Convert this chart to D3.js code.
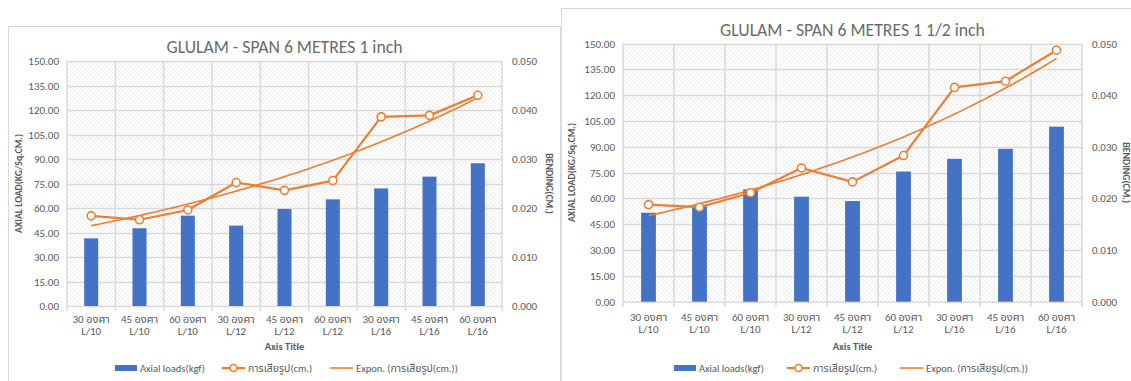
<!DOCTYPE html>
<html>
<head>
<meta charset="utf-8">
<script src="https://cdn.jsdelivr.net/npm/d3@7"></script>
<style>
  html, body { margin: 0; padding: 0; background: #ffffff; }
  svg { display: block; }
  text { font-family: Carlito, "Noto Sans Thai", "Liberation Sans", sans-serif; }
</style>
</head>
<body>
<svg id="chart" width="1131" height="381"></svg>
<script>
// ---------------- DATA ----------------
const angleLabels = ["30 องศา", "45 องศา", "60 องศา", "30 องศา", "45 องศา", "60 องศา", "30 องศา", "45 องศา", "60 องศา"];
const spanLabels = ["L/10", "L/10", "L/10", "L/12", "L/12", "L/12", "L/16", "L/16", "L/16"];

const titleA = "GLULAM - SPAN 6 METRES 1 inch";
const axialLoadsA = [41.4, 47.6, 55.3, 49.2, 59.4, 65.3, 72.0, 79.2, 87.4];
const bendingA = [0.0184, 0.0176, 0.0196, 0.0252, 0.0236, 0.0256, 0.0386, 0.0389, 0.0430];

const titleB = "GLULAM - SPAN 6 METRES 1 1/2 inch";
const axialLoadsB = [51.7, 56.2, 65.3, 61.0, 58.5, 75.6, 83.0, 88.8, 101.7];
const bendingB = [0.0188, 0.0183, 0.0211, 0.0259, 0.0232, 0.0283, 0.0415, 0.0427, 0.0487];

const loadTicks = [0, 15, 30, 45, 60, 75, 90, 105, 120, 135, 150];
const bendTicks = [0, 0.01, 0.02, 0.03, 0.04, 0.05];

const leftAxisTitle = "AXIAL LOAD(KG/Sq.CM.)";
const rightAxisTitle = "BENDING(CM.)";
const xAxisTitle = "Axis Title";
const legendBar = "Axial loads(kgf)";
const legendLine = "การเสียรูป(cm.)";
const legendTrend = "Expon. (การเสียรูป(cm.))";

// ---------------- STYLE ----------------
const BAR = "#4472C4";
const ORANGE = "#ED7D31";
const TXT = "#595959";
const GRID = "#d9d9d9";

const svg = d3.select("#chart");
const defs = svg.append("defs");
const pat = defs.append("pattern")
  .attr("id", "hatch").attr("patternUnits", "userSpaceOnUse")
  .attr("width", 4).attr("height", 4);
pat.append("rect").attr("width", 4).attr("height", 4).attr("fill", "#ffffff");
pat.append("path").attr("d", "M-1,-1 L5,5 M-1,3 L1,5 M3,-1 L5,1")
  .attr("stroke", "#ebebeb").attr("stroke-width", 1);

// exponential least-squares fit y = a*exp(b*x), x = 1..n (Excel style)
function expFit(vals) {
  const xs = vals.map((_, i) => i + 1);
  const ls = vals.map(v => Math.log(v));
  const mx = d3.mean(xs), ml = d3.mean(ls);
  let sxy = 0, sxx = 0;
  xs.forEach((x, i) => { sxy += (x - mx) * (ls[i] - ml); sxx += (x - mx) * (x - mx); });
  const b = sxy / sxx;
  const a = Math.exp(ml - b * mx);
  return x => a * Math.exp(b * x);
}

function drawChart(cfg, title, loads, bend) {
  const g = svg.append("g");
  // frame
  g.append("rect")
    .attr("x", cfg.frame[0] + 0.5).attr("y", cfg.frame[1] + 0.5)
    .attr("width", cfg.frame[2]).attr("height", cfg.frame[3])
    .attr("fill", "#ffffff").attr("stroke", GRID).attr("stroke-width", 1);

  const [x0, y0, x1, y1] = cfg.plot;
  const idx = d3.range(angleLabels.length);
  const x = d3.scaleBand().domain(idx).range([x0, x1]);
  const yL = d3.scaleLinear().domain([0, 150]).range([y1, y0]);
  const yR = d3.scaleLinear().domain([0, 0.05]).range([y1, y0]);
  const cx = i => x(i) + x.bandwidth() / 2;

  // plot background
  g.append("rect").attr("x", x0).attr("y", y0).attr("width", x1 - x0).attr("height", y1 - y0)
    .attr("fill", "url(#hatch)");

  // horizontal gridlines
  g.append("g").selectAll("line").data(loadTicks.filter(d => d > 0)).join("line")
    .attr("x1", x0).attr("x2", x1)
    .attr("y1", d => Math.round(yL(d)) + 0.5).attr("y2", d => Math.round(yL(d)) + 0.5)
    .attr("stroke", GRID).attr("stroke-width", 1.5);
  // vertical gridlines (category boundaries)
  const bounds = idx.map(i => x(i)).concat([x1]);
  g.append("g").selectAll("line").data(bounds).join("line")
    .attr("x1", d => d).attr("x2", d => d).attr("y1", y0).attr("y2", y1)
    .attr("stroke", GRID).attr("stroke-width", 1.5);
  // category axis line + tick marks
  g.append("line").attr("x1", x0).attr("x2", x1).attr("y1", y1 + 0.5).attr("y2", y1 + 0.5)
    .attr("stroke", GRID).attr("stroke-width", 1.5);
  g.append("g").selectAll("line").data(bounds).join("line")
    .attr("x1", d => d).attr("x2", d => d).attr("y1", y1).attr("y2", y1 + 5)
    .attr("stroke", GRID).attr("stroke-width", 1.5);

  // bars
  const bw = x.bandwidth() * 0.29;
  g.append("g").selectAll("rect").data(loads).join("rect")
    .attr("x", (d, i) => cx(i) - bw / 2).attr("width", bw)
    .attr("y", d => yL(d)).attr("height", d => yL(0) - yL(d))
    .attr("fill", BAR);

  // trendline (exponential)
  const f = expFit(bend);
  const tPts = d3.range(0, 80.001).map(k => 1 + k / 10);
  g.append("path")
    .attr("d", d3.line().x(t => cx(0) + (t - 1) * x.bandwidth()).y(t => yR(f(t)))(tPts))
    .attr("fill", "none").attr("stroke", ORANGE).attr("stroke-width", 1.6);

  // line series
  g.append("path")
    .attr("d", d3.line().x((d, i) => cx(i)).y(d => yR(d))(bend))
    .attr("fill", "none").attr("stroke", ORANGE).attr("stroke-width", 2.2)
    .attr("stroke-linejoin", "round");
  g.append("g").selectAll("circle").data(bend).join("circle")
    .attr("cx", (d, i) => cx(i)).attr("cy", d => yR(d)).attr("r", 4)
    .attr("fill", "#ffffff").attr("stroke", ORANGE).attr("stroke-width", 1.6);

  // left axis
  const la = g.append("g").attr("transform", `translate(${x0 - 8},0)`)
    .call(d3.axisLeft(yL).tickValues(loadTicks).tickFormat(d3.format(".2f")).tickSize(0).tickPadding(0));
  la.select(".domain").remove();
  la.selectAll("text").attr("fill", TXT).style("font-size", "11px")
    .style("font-family", 'Carlito, "Liberation Sans", sans-serif');

  // right axis
  const ra = g.append("g").attr("transform", `translate(${x1 + 10},0)`)
    .call(d3.axisRight(yR).tickValues(bendTicks).tickFormat(d3.format(".3f")).tickSize(0).tickPadding(0));
  ra.select(".domain").remove();
  ra.selectAll("text").attr("fill", TXT).style("font-size", "11px")
    .style("font-family", 'Carlito, "Liberation Sans", sans-serif');

  // category labels
  const cl = g.append("g").selectAll("text").data(idx).join("text")
    .attr("text-anchor", "middle").attr("fill", TXT).style("font-size", "11px");
  cl.append("tspan").attr("x", i => cx(i)).attr("y", cfg.catY[0]).text(i => angleLabels[i]);
  cl.append("tspan").attr("x", i => cx(i)).attr("y", cfg.catY[1]).text(i => spanLabels[i]);

  // title
  g.append("text").attr("x", (x0 + x1) / 2).attr("y", cfg.titleY)
    .attr("text-anchor", "middle").attr("fill", "#6b6b6b")
    .style("font-size", "17.7px").text(title);

  // axis titles
  g.append("text").attr("x", (x0 + x1) / 2).attr("y", cfg.xTitleY)
    .attr("text-anchor", "middle").attr("fill", TXT)
    .style("font-size", "10.5px").style("font-weight", "bold").text(xAxisTitle);
  g.append("text")
    .attr("transform", `translate(${cfg.lTitleX},${(y0 + y1) / 2}) rotate(-90)`)
    .attr("text-anchor", "middle").attr("dominant-baseline", "central").attr("fill", TXT)
    .style("font-size", "9.8px").style("font-weight", "bold").text(leftAxisTitle);
  g.append("text")
    .attr("transform", `translate(${cfg.rTitleX},${(y0 + y1) / 2}) rotate(90)`)
    .attr("text-anchor", "middle").attr("dominant-baseline", "central").attr("fill", TXT)
    .style("font-size", "9.8px").style("font-weight", "bold").text(rightAxisTitle);

  // legend
  const lg = g.append("g").attr("transform", `translate(0,${cfg.legendY})`);
  const L = cfg.legend;
  lg.append("rect").attr("x", L[0]).attr("y", -3).attr("width", 22).attr("height", 6).attr("fill", BAR);
  lg.append("text").attr("x", L[0] + 25).attr("y", 3.5).attr("fill", TXT).style("font-size", "10.5px").text(legendBar);
  lg.append("line").attr("x1", L[1]).attr("x2", L[1] + 23).attr("y1", 0).attr("y2", 0)
    .attr("stroke", ORANGE).attr("stroke-width", 2.2);
  lg.append("circle").attr("cx", L[1] + 11.5).attr("cy", 0).attr("r", 3.5)
    .attr("fill", "#fff").attr("stroke", ORANGE).attr("stroke-width", 1.6);
  lg.append("text").attr("x", L[1] + 26).attr("y", 3.5).attr("fill", TXT).style("font-size", "10.5px").text(legendLine);
  lg.append("line").attr("x1", L[2]).attr("x2", L[2] + 23).attr("y1", 0).attr("y2", 0)
    .attr("stroke", ORANGE).attr("stroke-width", 1.6);
  lg.append("text").attr("x", L[2] + 26).attr("y", 3.5).attr("fill", TXT).style("font-size", "10.5px").text(legendTrend);
}

drawChart({
  frame: [8, 26, 552, 380],
  plot: [67, 61, 502, 306],
  catY: [323, 335],
  titleY: 53,
  xTitleY: 350,
  lTitleX: 18.5,
  rTitleX: 548.5,
  legendY: 368,
  legend: [115, 222, 330]
}, titleA, axialLoadsA, bendingA);

drawChart({
  frame: [561, 8, 600, 400],
  plot: [623, 43.5, 1082, 301.7],
  catY: [321, 333],
  titleY: 36,
  xTitleY: 350,
  lTitleX: 571.5,
  rTitleX: 1125.5,
  legendY: 368,
  legend: [674, 787, 900]
}, titleB, axialLoadsB, bendingB);
</script>
</body>
</html>
